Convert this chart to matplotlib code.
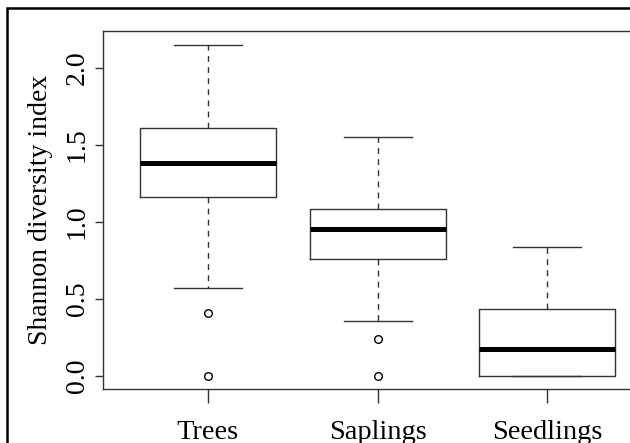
import matplotlib
matplotlib.use('Agg')
import matplotlib.pyplot as plt
from matplotlib.patches import Rectangle

plt.rcParams['font.family'] = ['Liberation Serif', 'DejaVu Serif']
plt.rcParams['lines.scale_dashes'] = False

# Box statistics
groups = ['Trees', 'Saplings', 'Seedlings']
q1 = [1.16, 0.76, 0.00]
medians = [1.38, 0.955, 0.175]
q3 = [1.61, 1.08, 0.435]
whis_lo = [0.57, 0.355, 0.00]
whis_hi = [2.15, 1.55, 0.835]
outliers = [[0.41, 0.0], [0.24, 0.0], []]

stats = []
for i, name in enumerate(groups):
    stats.append({'label': name, 'q1': q1[i], 'med': medians[i], 'q3': q3[i],
                  'whislo': whis_lo[i], 'whishi': whis_hi[i], 'fliers': outliers[i]})

EDGE = '#333333'

fig = plt.figure(figsize=(6.3, 4.43), dpi=100, facecolor='white')
ax = fig.add_axes([102.8 / 630, 54 / 443, (652.5 - 102.8) / 630, 358 / 443])

ax.bxp(stats, positions=[1, 2, 3], widths=0.8, showfliers=True,
       boxprops=dict(color=EDGE, linewidth=1.0),
       medianprops=dict(color='black', linewidth=3.6, solid_capstyle='butt'),
       whiskerprops=dict(color=EDGE, linewidth=1.0, linestyle=(0, (4.2, 3.8))),
       capprops=dict(color=EDGE, linewidth=1.0),
       capwidths=0.4,
       flierprops=dict(marker='o', markersize=5.5, markerfacecolor='none',
                       markeredgecolor='black', markeredgewidth=1.0))

ax.set_xlim(0.38, 3.62)
ax.set_ylim(-0.086, 2.238)
ax.set_yticks([0.0, 0.5, 1.0, 1.5, 2.0])
ax.set_yticklabels(['0.0', '0.5', '1.0', '1.5', '2.0'], rotation=90, va='center')
ax.set_xticks([1, 2, 3])
ax.set_xticklabels(groups)
ax.tick_params(axis='y', length=5.5, width=1.0, color=EDGE, pad=4, labelsize=20)
ax.tick_params(axis='x', length=10, width=1.0, color=EDGE, pad=12, labelsize=20.5)
ax.set_ylabel('Shannon diversity index', fontsize=20, labelpad=8)
for s in ax.spines.values():
    s.set_color(EDGE)
    s.set_linewidth(1.0)

# outer frame
fig.patches.append(Rectangle((7 / 630, -0.2), 1.2, 1.2 - 8 / 443,
                             transform=fig.transFigure, fill=False,
                             edgecolor='black', linewidth=1.8))

fig.savefig('out.png', dpi=100, facecolor='white')
